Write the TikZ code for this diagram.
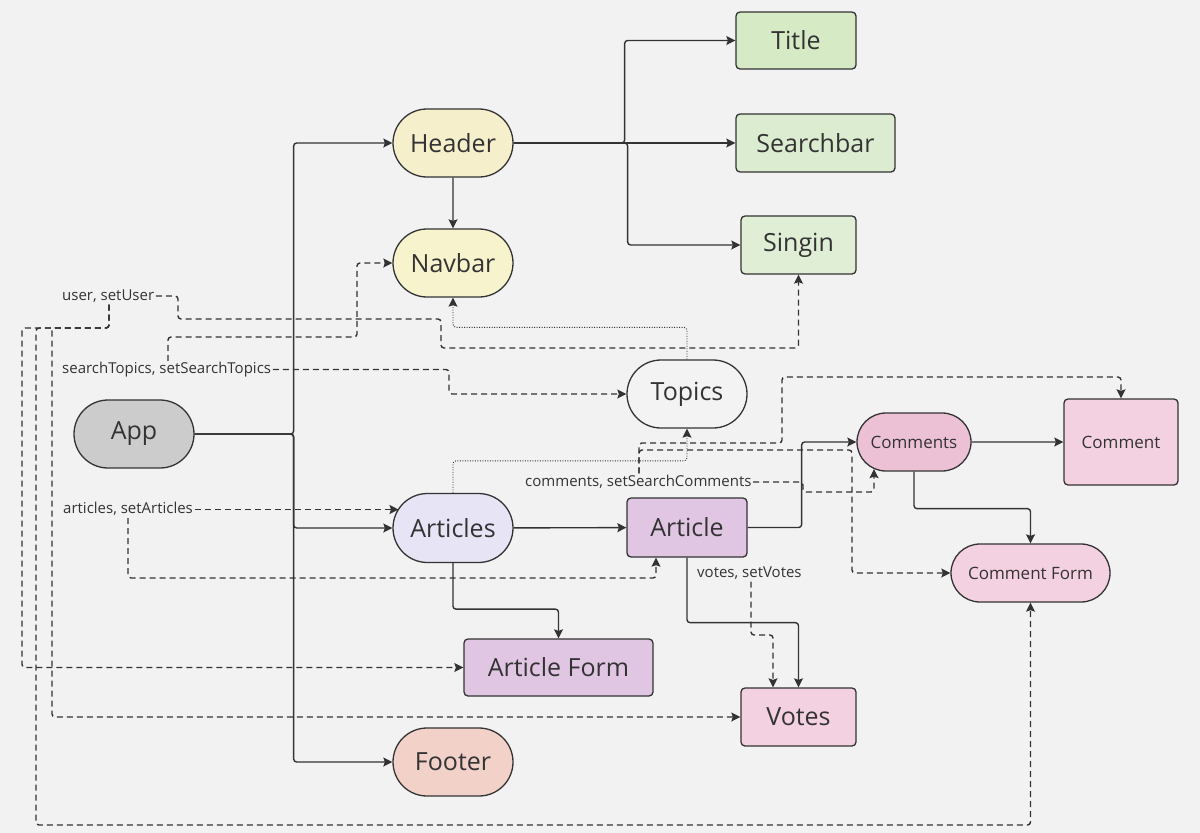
\documentclass[tikz,border=0pt]{standalone}
\usepackage{fontspec}
\setmainfont{Open Sans}
\usepackage{tikz}
\usetikzlibrary{arrows.meta,shapes.misc}
\usepackage{xcolor}

\definecolor{canvas}{HTML}{F2F2F2}
\definecolor{ink}{HTML}{333333}
\definecolor{appgrey}{HTML}{CCCCCC}
\definecolor{headyellow}{HTML}{F5EFCC}
\definecolor{navyellow}{HTML}{F6F3CD}
\definecolor{titlegreen}{HTML}{D5EAC5}
\definecolor{searchgreen}{HTML}{DCECD0}
\definecolor{signgreen}{HTML}{E0EED5}
\definecolor{topicsgrey}{HTML}{F3F3F3}
\definecolor{articleslilac}{HTML}{E6E4F5}
\definecolor{articlemauve}{HTML}{E1C6E4}
\definecolor{commentsrose}{HTML}{ECC1D6}
\definecolor{commentpink}{HTML}{F4D1E1}
\definecolor{footerpeach}{HTML}{F2D1C9}

\begin{document}
\begin{tikzpicture}[x=1pt, y=-1pt, >={Stealth[length=9pt, width=9pt, inset=1.5pt]},
	every comp/.style={draw=ink, line width=1.3pt, text=ink, inner sep=0pt, font=\fontsize{25}{30}\selectfont},
	stadium/.style={every comp, rounded rectangle},
	card/.style={every comp, rectangle, rounded corners=4pt},
	comp app/.style={fill=appgrey},
	comp header/.style={fill=headyellow},
	comp navbar/.style={fill=navyellow},
	comp title/.style={fill=titlegreen},
	comp searchbar/.style={fill=searchgreen},
	comp singin/.style={fill=signgreen},
	comp topics/.style={fill=topicsgrey},
	comp articles/.style={fill=articleslilac},
	comp article/.style={fill=articlemauve},
	comp article-form/.style={fill=articlemauve},
	comp comments/.style={fill=commentsrose, font=\fontsize{17}{20}\selectfont},
	comp comment/.style={fill=commentpink, font=\fontsize{17}{20}\selectfont},
	comp comment-form/.style={fill=commentpink, font=\fontsize{17}{20}\selectfont},
	comp votes/.style={fill=commentpink},
	comp footer/.style={fill=footerpeach},
	prop/.style={anchor=west, text=ink, inner sep=1.5pt, text height=11pt, text depth=3pt, font=\fontsize{15}{18}\selectfont},
	link/.style={->, draw=ink, line width=1.4pt, rounded corners=3pt},
	flow/.style={link, dash pattern=on 6pt off 4pt},
	hint/.style={link, line width=0.9pt, dash pattern=on 1pt off 1.5pt}]

	\path [use as bounding box, fill=canvas] (0,0) rectangle (1200,833);

	\foreach \n/\l/\x/\y/\w/\h in {app/App/134/434/120/68, header/Header/453/143/120/68, navbar/Navbar/453/263/120/68, topics/Topics/687/394/120/68, articles/Articles/453/528/120/69, comments/Comments/914/442/114/58, comment-form/Comment Form/1030.5/573/159/58, footer/Footer/453/762/120/68}
	  \node [stadium, comp \n/.try, minimum width=\w pt, minimum height=\h pt] (\n) at (\x,\y) {\l};

	\foreach \n/\l/\x/\y/\w/\h in {title/Title/796/40.5/120/57, searchbar/Searchbar/815.5/143/159/58, singin/Singin/798.5/245/115/58, article/Article/687/527.5/120/59, comment/Comment/1121/442/114/86, article-form/Article Form/558.5/667.5/189/57, votes/Votes/798.5/717/115/58}
	  \node [card, comp \n/.try, minimum width=\w pt, minimum height=\h pt] (\n) at (\x,\y) {\l};

	\node [prop] (user-prop) at (60.5,296) {user, setUser};
	\node [prop] (search-prop) at (60.5,369.5) {searchTopics, setSearchTopics};
	\node [prop] (articles-prop) at (61.5,509.5) {articles, setArticles};
	\node [prop] (comments-prop) at (523.5,482) {comments, setSearchComments};
	\node [prop] (votes-prop) at (695.5,573) {votes, setVotes};

	\foreach \t in {header,articles,footer}
	  \draw [link] (app.east) -- ++(99,0) |- (\t.west);

	\draw [link] (header) -- (navbar);
	\draw [link] (header.east) -- (searchbar.west);
	\foreach \t/\d in {title/111, singin/114}
	  \draw [link] (header.east) -- ++(\d,0) |- (\t.west);

	\draw [link] (articles) -- (article);
	\draw [link] (articles.south) -- ++(0,46) -| (article-form.north);
	\draw [link] (article.east) -- ++(54,0) |- (comments.west);
	\draw [link] (article.south) -- ++(0,65) -| (votes.north);
	\draw [link] (comments) -- (comment);
	\draw [link] (comments.south) -- ++(0,37) -| (comment-form.north);

	\draw [hint] (topics.north) -- ++(0,-32) -| (navbar.south);
	\draw [hint] (articles.north) -- ++(0,-32) -| (topics.south);

	\draw [flow] (user-prop.east) -| (178,319) -| (441,348) -| (singin.south);
	\foreach \t/\d in {article-form/22, votes/52}
	  \draw [flow] (user-prop.south -| 109,0) -- (109,328) -- (\d,328) |- (\t.west);
	\draw [flow] (user-prop.south -| 109,0) -- (109,328) -- (36,328) -- (36,825) -| (comment-form.south);

	\draw [flow] (search-prop.east) -- (449,369.5) |- (topics.west);
	\draw [flow] (search-prop.north -| 168,0) -- (168,337) -- (357,337) |- (navbar.west);

	\draw [flow] (articles-prop.east) -- (articles-prop.east -| articles.160);
	\draw [flow] (articles-prop.south -| 128,0) -- (128,578) -| ([xshift=-31pt]article.south);

	\draw [flow] (comments-prop.east) -| (803,492) -| ([xshift=-40pt, yshift=2.5pt]comments.south);
	\draw [flow] (comments-prop.north -| 639,0) -- (639,443) -| (782,377) -| (comment.north);
	\draw [flow] (comments-prop.north -| 639,0) -- (639,450) -- (852,450) |- (comment-form.west);

	\draw [flow] (votes-prop.south -| 751,0) -- (751,635) -| ([xshift=-25.5pt]votes.north);

\end{tikzpicture}
\end{document}
